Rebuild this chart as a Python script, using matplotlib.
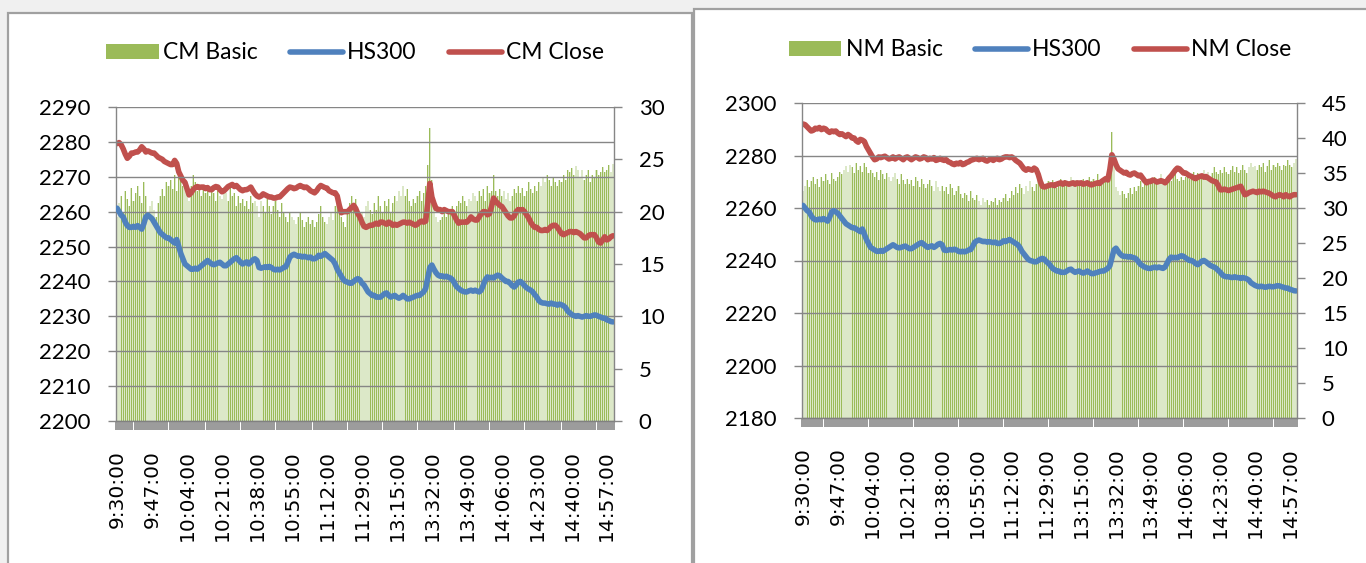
import numpy as np
import matplotlib
matplotlib.use("Agg")
import matplotlib.pyplot as plt
from matplotlib.patches import Rectangle, Patch
from matplotlib.lines import Line2D

# ---------------- data ----------------
tick_labels = ["9:30:00", "9:47:00", "10:04:00", "10:21:00", "10:38:00", "10:55:00",
               "11:12:00", "11:29:00", "13:15:00", "13:32:00", "13:49:00", "14:06:00",
               "14:23:00", "14:40:00", "14:57:00"]
n_points = 242          # one point per trading minute (9:30-11:30, 13:00-15:00)
tick_step = 17

hs300 = [
    2261, 2260, 2259, 2258.5, 2257, 2256, 2255.5, 2255.5, 2255.8, 2255.5, 2256, 2255.5, 2255, 2256.5, 2258.5, 2259, 2258.5,
    2258, 2257, 2256, 2255, 2254, 2253.5, 2253, 2252.5, 2252.5, 2252, 2251.5, 2251, 2252, 2250, 2248, 2246.5, 2245,
    2244.5, 2244, 2243.5, 2243.5, 2243.8, 2243.5, 2244, 2244.5, 2245, 2245.5, 2246, 2245.5, 2245, 2244.8, 2245, 2245.3, 2245.5,
    2245, 2244.5, 2244.5, 2245, 2245.5, 2246, 2246.5, 2246.8, 2246.2, 2245.5, 2245, 2245.3, 2245.6, 2245, 2245.5, 2246.2, 2246.5,
    2246, 2244, 2243.8, 2244, 2244.2, 2244, 2244.3, 2244, 2243.5, 2243.3, 2243.5, 2243.3, 2243.6, 2244, 2244.2, 2245.5, 2247,
    2247.5, 2247.8, 2247.5, 2247.2, 2247.3, 2247, 2247.2, 2247, 2246.8, 2247, 2246.5, 2246.5, 2246.8, 2247.5, 2247.2, 2247.6, 2248,
    2247.5, 2247, 2246.5, 2246, 2245, 2243.5, 2242.5, 2241.5, 2240.5, 2240, 2239.8, 2239.5, 2239.5, 2240, 2240.5, 2240.8, 2240.5,
    2239.5, 2239, 2238, 2237, 2236.5, 2236, 2236, 2235.5, 2235.5, 2235.5, 2236, 2236.5, 2236.7, 2236, 2235.5, 2235.8, 2236,
    2235.5, 2235.2, 2235.5, 2236, 2235.5, 2235, 2235, 2235.3, 2235.5, 2235.8, 2236, 2236, 2236.5, 2237, 2238, 2241, 2244,
    2244.7, 2243.5, 2242.5, 2241.8, 2241.5, 2241.6, 2241.3, 2241.5, 2241.2, 2241, 2240.5, 2239.5, 2238.5, 2238, 2237.5, 2237.2, 2237,
    2237, 2237.3, 2237.5, 2237.2, 2237.5, 2237.2, 2237, 2237.5, 2239, 2240.5, 2241.3, 2241, 2241.2, 2241, 2241.5, 2241.8, 2241.6,
    2241, 2240.5, 2240, 2240, 2239.5, 2238.8, 2238.4, 2239, 2239.8, 2240, 2239.5, 2238.8, 2238.2, 2237.8, 2237.5, 2237, 2236.2,
    2235.5, 2234.5, 2234, 2233.8, 2233.8, 2233.6, 2233.5, 2233.8, 2233.5, 2233.5, 2233.2, 2233.5, 2233.3, 2233, 2232.5, 2231.5, 2231,
    2230.5, 2230.2, 2230, 2230.2, 2230, 2229.8, 2230, 2230.2, 2230, 2230, 2230.2, 2230.4, 2230.3, 2230, 2229.8, 2229.5, 2229.5,
    2229, 2228.8, 2228.5, 2228.4]

cm_close = [
    26.5, 26.6, 26.4, 26.0, 25.5, 25.1, 25.3, 25.6, 25.6, 25.7, 25.7, 25.9, 26.2, 26.0, 25.7, 25.8, 25.7,
    25.6, 25.6, 25.4, 25.2, 25.1, 25.0, 24.8, 24.7, 24.6, 24.5, 24.5, 24.9, 24.6, 23.8, 23.4, 23.0, 22.8,
    22.2, 21.6, 21.8, 22.1, 22.3, 22.4, 22.3, 22.35, 22.35, 22.2, 22.3, 22.1, 22.1, 22.3, 22.4, 22.35, 22.1,
    21.9, 22.0, 22.2, 22.4, 22.5, 22.6, 22.4, 22.5, 22.3, 22.1, 22.0, 22.1, 22.1, 22.2, 22.35, 22.0, 21.7,
    21.5, 21.4, 21.5, 21.7, 21.6, 21.5, 21.4, 21.4, 21.3, 21.3, 21.4, 21.4, 21.6, 21.8, 22.0, 22.2, 22.35,
    22.3, 22.2, 22.25, 22.4, 22.5, 22.4, 22.3, 22.35, 22.2, 22.0, 21.9, 21.8, 22.0, 22.3, 22.5, 22.4, 22.3,
    22.25, 22.0, 21.9, 21.8, 21.8, 21.5, 20.6, 19.9, 20.0, 20.0, 20.0, 20.2, 20.4, 20.6, 20.3, 19.8, 19.5,
    19.0, 18.6, 18.5, 18.6, 18.7, 18.7, 18.8, 18.9, 18.8, 19.0, 19.0, 18.9, 18.8, 19.0, 18.9, 18.7, 18.8,
    18.7, 18.8, 18.9, 19.0, 19.0, 18.9, 19.0, 18.9, 18.8, 18.7, 18.8, 19.0, 19.1, 19.0, 19.1, 20.8, 22.7,
    21.4, 20.8, 20.3, 20.2, 20.2, 20.0, 20.2, 20.1, 20.0, 20.0, 20.0, 19.6, 19.2, 18.9, 19.0, 19.0, 19.0,
    19.0, 19.2, 19.5, 19.3, 19.2, 19.2, 19.5, 19.8, 20.0, 20.0, 19.7, 19.8, 20.5, 21.3, 21.0, 20.8, 20.6,
    20.5, 20.2, 19.9, 19.6, 19.4, 19.4, 19.6, 20.0, 20.2, 20.1, 20.2, 20.0, 19.7, 19.4, 19.0, 18.7, 18.5,
    18.5, 18.3, 18.2, 18.2, 18.3, 18.2, 18.4, 18.6, 18.7, 18.7, 18.5, 18.2, 17.9, 17.8, 17.9, 18.0, 18.1,
    18.1, 18.0, 18.1, 18.0, 17.9, 17.7, 17.5, 17.5, 17.7, 17.8, 17.8, 17.8, 17.5, 17.1, 17.0, 17.3, 17.6,
    17.3, 17.4, 17.6, 17.7]

cm_basic = [
    19.5, 20.8, 21.5, 20.0, 22.0, 21.2, 20.5, 22.3, 21.0, 21.8, 22.5, 21.5, 20.8, 22.8, 21.5, 19.8, 20.5,
    21.0, 20.2, 19.5, 20.8, 21.5, 22.2, 21.5, 22.8, 22.5, 23.0, 22.2, 23.5, 22.0, 23.2, 23.8, 22.5, 23.0,
    22.0, 21.0, 22.5, 23.5, 22.8, 22.0, 22.2, 21.5, 22.5, 21.8, 22.0, 21.5, 22.3, 21.8, 21.0, 22.0, 21.5,
    21.2, 22.0, 21.8, 21.0, 22.3, 21.5, 21.8, 20.5, 21.5, 20.8, 21.2, 20.5, 21.0, 20.3, 21.5, 20.8, 21.0,
    20.5, 19.5, 21.0, 20.5, 20.0, 21.2, 20.5, 19.8, 20.5, 21.0, 20.2, 19.5, 20.8, 20.0, 19.5, 19.0, 20.0,
    19.5, 19.2, 18.8, 19.5, 20.0, 19.2, 18.5, 19.0, 19.5, 18.8, 19.2, 18.5, 19.0, 19.8, 20.5, 19.5, 19.0,
    18.8, 19.5, 20.0, 19.2, 20.5, 21.0, 20.2, 19.5, 19.0, 18.5, 20.0, 20.8, 21.5, 20.5, 21.2, 20.0, 19.5,
    20.0, 19.5, 20.5, 21.0, 20.2, 19.8, 20.8, 20.2, 21.5, 20.5, 20.0, 21.0, 20.5, 21.2, 20.0, 20.8, 21.5,
    21.0, 22.0, 21.5, 22.5, 21.5, 22.2, 21.0, 20.5, 21.2, 20.8, 21.5, 22.0, 21.0, 21.8, 22.5, 24.5, 28.0,
    23.0, 20.5, 19.5, 19.0, 19.2, 19.5, 20.0, 19.5, 19.8, 20.2, 20.5, 19.8, 20.5, 21.0, 20.8, 21.5, 21.0,
    20.5, 21.2, 21.0, 21.8, 21.5, 21.0, 22.0, 21.5, 22.2, 21.0, 22.5, 21.8, 22.0, 23.5, 22.0, 21.5, 22.2,
    21.5, 22.0, 21.2, 21.8, 21.0, 21.5, 22.2, 21.8, 22.5, 21.8, 22.3, 21.5, 22.0, 22.8, 22.2, 21.8, 22.5,
    22.0, 22.8, 22.5, 23.2, 22.8, 23.5, 23.0, 22.5, 23.2, 22.8, 22.5, 23.0, 22.8, 23.5, 23.0, 24.0, 23.8,
    24.2, 23.5, 24.4, 24.0, 23.2, 24.0, 23.0, 23.5, 24.0, 22.8, 23.5, 23.2, 24.0, 23.5, 23.8, 24.3, 23.8,
    24.0, 24.5, 23.8, 24.6]

nm_close = [
    42.0, 41.9, 41.6, 41.3, 41.0, 41.1, 41.4, 41.3, 41.5, 41.2, 41.4, 41.3, 41.0, 40.8, 41.0, 40.9, 41.0,
    40.7, 40.5, 40.6, 40.4, 40.2, 40.5, 40.3, 40.0, 40.0, 39.6, 39.4, 39.8, 39.7, 39.5, 38.8, 38.3, 37.8,
    37.3, 36.9, 37.0, 37.3, 37.2, 37.3, 37.4, 37.2, 37.0, 37.1, 37.3, 37.0, 37.2, 37.3, 37.1, 36.9, 37.2,
    37.3, 37.1, 36.9, 37.1, 37.3, 37.2, 37.0, 37.1, 37.3, 37.2, 36.9, 37.1, 37.0, 37.2, 36.8, 36.9, 37.1,
    36.9, 36.8, 36.9, 36.6, 36.5, 36.3, 36.2, 36.4, 36.3, 36.5, 36.2, 36.3, 36.5, 36.6, 36.8, 36.9, 37.0,
    37.1, 36.9, 37.0, 37.1, 36.8, 36.7, 36.9, 37.0, 36.8, 37.0, 37.1, 36.9, 37.0, 37.2, 37.3, 37.3, 37.2,
    37.3, 37.1, 36.8, 36.6, 36.4, 36.0, 35.6, 35.4, 35.6, 35.5, 35.4, 35.7, 35.5, 34.8, 33.8, 33.1, 33.0,
    33.1, 33.2, 33.3, 33.3, 33.2, 33.4, 33.5, 33.6, 33.4, 33.6, 33.5, 33.4, 33.5, 33.6, 33.4, 33.6, 33.5,
    33.6, 33.4, 33.5, 33.6, 33.4, 33.3, 33.4, 33.5, 33.6, 33.5, 33.8, 34.0, 34.2, 34.0, 35.5, 37.6, 37.0,
    36.2, 35.6, 35.4, 35.2, 35.0, 35.1, 34.8, 34.7, 34.9, 35.0, 34.8, 34.6, 34.7, 34.3, 33.9, 33.6, 33.8,
    33.8, 34.0, 33.9, 33.7, 33.8, 33.9, 33.8, 33.6, 33.9, 34.3, 34.6, 35.0, 35.4, 35.7, 35.6, 35.3, 35.0,
    35.0, 34.8, 34.6, 34.5, 34.3, 34.2, 34.4, 34.5, 34.6, 34.4, 34.5, 34.3, 34.1, 33.9, 33.8, 33.7, 33.2,
    32.6, 32.6, 32.7, 32.6, 32.5, 32.6, 32.7, 32.8, 32.9, 33.0, 33.1, 32.5, 31.9, 32.0, 32.2, 32.3, 32.4,
    32.3, 32.2, 32.4, 32.3, 32.4, 32.3, 32.2, 32.1, 31.9, 31.7, 31.6, 31.8, 31.9, 31.8, 31.6, 31.9, 31.7,
    31.6, 31.8, 31.9, 31.9]

nm_basic = [
    32.5, 33.2, 34.0, 33.0, 33.8, 34.5, 33.5, 34.2, 33.0, 34.5, 33.8, 34.8, 34.0, 33.5, 35.0, 34.2, 33.8,
    34.5, 35.2, 34.8, 35.5, 36.0, 35.2, 36.2, 35.8, 35.0, 36.5, 35.5, 36.0, 35.2, 36.5, 35.8, 35.0, 35.5,
    35.0, 34.5, 35.2, 34.0, 35.5, 34.8, 34.2, 35.0, 34.5, 33.8, 34.5, 35.0, 34.2, 33.5, 34.8, 34.0, 33.5,
    34.2, 33.5, 34.0, 33.2, 34.5, 33.8, 33.0, 34.2, 33.5, 32.8, 33.5, 34.0, 33.2, 32.5, 33.8, 33.0, 32.5,
    33.2, 32.5, 33.0, 32.0, 33.5, 32.8, 31.8, 32.5, 33.2, 32.0, 31.5, 32.2, 31.8, 31.0, 32.5, 31.5, 31.2,
    31.8, 31.0, 30.5, 31.5, 30.8, 31.2, 30.5, 31.0, 30.8, 31.5, 30.5, 31.2, 30.8, 31.5, 32.0, 31.0, 31.5,
    32.5, 31.8, 33.0, 32.2, 33.5, 32.8, 32.0, 33.2, 32.5, 33.8, 33.0, 32.5, 33.5, 34.0, 33.2, 32.8, 33.5,
    33.0, 33.8, 33.2, 34.0, 33.5, 32.8, 33.8, 34.2, 33.5, 34.0, 33.2, 33.8, 34.5, 33.5, 34.0, 33.8, 33.2,
    33.8, 34.2, 33.5, 34.0, 34.5, 33.8, 34.2, 33.5, 34.8, 34.0, 33.5, 34.2, 34.5, 34.0, 35.0, 40.9, 36.0,
    33.0, 32.5, 31.8, 32.5, 32.0, 31.5, 32.2, 32.8, 32.0, 33.0, 32.5, 33.2, 33.8, 33.0, 33.5, 34.0, 33.5,
    34.2, 33.8, 34.5, 33.5, 34.0, 34.8, 34.2, 33.5, 34.5, 34.0, 33.8, 34.5, 35.0, 34.2, 33.8, 34.5, 34.0,
    34.5, 35.0, 34.2, 34.8, 35.2, 34.5, 35.0, 34.2, 34.8, 35.5, 34.8, 35.2, 34.5, 35.0, 35.8, 35.2, 34.8,
    35.5, 35.0, 35.8, 35.2, 34.8, 35.5, 36.0, 35.2, 35.8, 35.0, 35.5, 36.2, 35.5, 35.0, 35.8, 36.5, 35.8,
    36.0, 35.5, 36.2, 35.8, 36.5, 35.2, 36.0, 36.8, 35.5, 36.2, 35.8, 36.5, 36.0, 35.5, 36.2, 36.0, 36.8,
    36.2, 35.8, 36.5, 37.0]

# ---------------- style ----------------
GREEN = "#9BBB59"
LIGHT_GREEN = "#DCE8C8"
BLUE = "#4F81BD"
RED = "#C0504D"
GRAY = "#868686"
FONT_Y = "Lato"
FONT_X = "DejaVu Sans"
W, H = 1366, 563

fig = plt.figure(figsize=(W / 100, H / 100), dpi=100, facecolor="#F0F0F0")

def fx(px):
    return px / W

def fy(py):
    return 1 - py / H

# panel frames (drawn below everything)
fig.patches.append(Rectangle((fx(8), fy(575)), fx(684), fy(13) - fy(575),
                             transform=fig.transFigure, facecolor="white",
                             edgecolor="#A0A0A0", lw=1.6, zorder=-10))
fig.patches.append(Rectangle((fx(694), fy(575)), fx(690), fy(9) - fy(575),
                             transform=fig.transFigure, facecolor="white",
                             edgecolor="#A0A0A0", lw=1.6, zorder=-10))

x = np.arange(n_points)


def panel(rect, basic, close, left_lim, left_ticks, right_lim, right_ticks,
          names, legend_center):
    ax1 = fig.add_axes(rect)
    ax2 = ax1.twinx()
    ax2.set_zorder(1)
    ax1.set_zorder(2)
    ax1.patch.set_visible(False)
    ax2.patch.set_visible(False)

    # bars on the secondary axis
    ax2.bar(x, basic, width=1.0, color=LIGHT_GREEN, linewidth=0, zorder=1)
    ax2.bar(x, basic, width=0.38, color=GREEN, linewidth=0, zorder=2)
    ax2.plot(x, close, color=RED, lw=4.0, solid_capstyle="round",
             solid_joinstyle="round", zorder=3)
    ax1.plot(x, hs300, color=BLUE, lw=4.0, solid_capstyle="round",
             solid_joinstyle="round", zorder=3)

    ax1.set_xlim(-0.5, n_points - 0.5)
    ax1.set_ylim(*left_lim)
    ax2.set_ylim(*right_lim)
    ax1.set_yticks(left_ticks)
    ax2.set_yticks(right_ticks)
    ax1.grid(axis="y", color=GRAY, lw=1.0)
    ax1.set_axisbelow(False)

    ax1.set_xticks(np.arange(0, n_points, tick_step))
    ax1.set_xticklabels(tick_labels, rotation=90, fontfamily=FONT_X,
                        fontsize=14.5)
    ax1.set_xticks(np.arange(-0.5, n_points, 1.0), minor=True)
    ax1.tick_params(axis="x", which="major", length=0, pad=21)
    ax1.tick_params(axis="x", which="minor", length=6.5, width=1.1,
                    color="#7F7F7F", direction="out")

    for ax in (ax1, ax2):
        for s in ax.spines.values():
            s.set_visible(False)
    ax1.spines["left"].set_visible(True)
    ax1.spines["left"].set_color(GRAY)
    ax1.spines["left"].set_linewidth(1.0)
    ax1.spines["bottom"].set_visible(True)
    ax1.spines["bottom"].set_color(GRAY)
    ax1.spines["bottom"].set_linewidth(1.0)
    ax2.spines["right"].set_visible(True)
    ax2.spines["right"].set_color(GRAY)
    ax2.spines["right"].set_linewidth(1.0)

    ax1.tick_params(axis="y", length=5.8, width=1.0, color=GRAY, pad=12.5,
                    labelsize=16)
    ax2.tick_params(axis="y", length=5.8, width=1.0, color=GRAY, pad=12,
                    labelsize=16)
    for lab in ax1.get_yticklabels() + ax2.get_yticklabels():
        lab.set_fontfamily(FONT_Y)

    handles = [Patch(facecolor=GREEN, edgecolor="none"),
               Line2D([], [], color=BLUE, lw=4.0, solid_capstyle="round"),
               Line2D([], [], color=RED, lw=4.0, solid_capstyle="round")]
    fig.legend(handles, names, loc="center", bbox_to_anchor=legend_center,
               ncol=3, frameon=False, prop={"family": FONT_Y, "size": 16.5},
               handlelength=2.3, handleheight=0.65, handletextpad=0.2,
               columnspacing=1.4)
    return ax1, ax2


panel([fx(116), fy(421), fx(614 - 116), fy(107) - fy(421)],
      cm_basic, cm_close, (2200, 2290), np.arange(2200, 2291, 10),
      (0, 30), np.arange(0, 31, 5), ["CM Basic", "HS300", "CM Close"],
      (fx(355), fy(53)))

panel([fx(802), fy(418), fx(1297 - 802), fy(103) - fy(418)],
      nm_basic, nm_close, (2180, 2300), np.arange(2180, 2301, 20),
      (0, 45), np.arange(0, 46, 5), ["NM Basic", "HS300", "NM Close"],
      (fx(1040), fy(50)))

fig.savefig("out.png", dpi=100, facecolor=fig.get_facecolor())
